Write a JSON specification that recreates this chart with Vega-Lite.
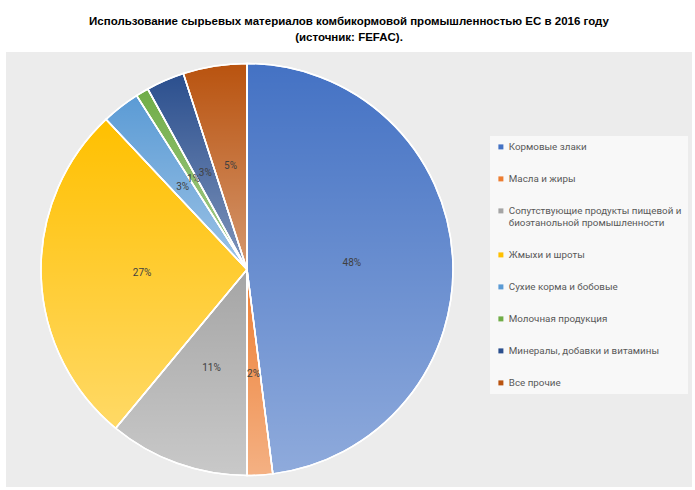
{
  "$schema": "https://vega.github.io/schema/vega-lite/v6.json",
  "padding": {"left": 6, "top": 15, "right": 3, "bottom": 3},
  "background": "white",
  "title": {
    "text": ["Использование сырьевых материалов комбикормовой промышленностью ЕС в 2016 году", "(источник: FEFAC)."],
    "anchor": "middle",
    "font": "Liberation Sans",
    "fontSize": 11.5,
    "fontWeight": "bold",
    "color": "#000000",
    "lineHeight": 16,
    "offset": 9
  },
  "spacing": 0,
  "hconcat": [
    {
      "width": 482,
      "height": 435,
      "view": {"fill": "#ececec", "stroke": null},
      "data": {
        "values": [
          {"category": "Кормовые злаки", "share": 0.48, "order": 1},
          {"category": "Масла и жиры", "share": 0.02, "order": 2},
          {"category": "Сопутствующие продукты пищевой и биоэтанольной промышленности", "share": 0.11, "order": 3},
          {"category": "Жмыхи и шроты", "share": 0.27, "order": 4},
          {"category": "Сухие корма и бобовые", "share": 0.03, "order": 5},
          {"category": "Молочная продукция", "share": 0.01, "order": 6},
          {"category": "Минералы, добавки и витамины", "share": 0.03, "order": 7},
          {"category": "Все прочие", "share": 0.05, "order": 8}
        ]
      },
      "layer": [
        {
          "mark": {"type": "arc", "outerRadius": 206, "stroke": "white", "strokeWidth": 1.5},
          "encoding": {
            "theta": {"field": "share", "type": "quantitative", "stack": true},
            "order": {"field": "order", "type": "quantitative"},
            "color": {
              "field": "category",
              "type": "nominal",
              "scale": {
                "domain": [
                  "Кормовые злаки",
                  "Масла и жиры",
                  "Сопутствующие продукты пищевой и биоэтанольной промышленности",
                  "Жмыхи и шроты",
                  "Сухие корма и бобовые",
                  "Молочная продукция",
                  "Минералы, добавки и витамины",
                  "Все прочие"
                ],
                "range": ["#4472c4", "#ed7d31", "#a5a5a5", "#ffc000", "#5b9bd5", "#70ad47", "#2b4f8e", "#b9530f"]
              },
              "legend": {
                "orient": "none",
                "legendX": 484,
                "legendY": 84,
                "direction": "vertical",
                "title": null,
                "symbolType": "square",
                "symbolSize": 25,
                "symbolStrokeWidth": 0,
                "labelFont": "Roboto",
                "labelFontSize": 9.8,
                "labelColor": "#595959",
                "labelLimit": 260,
                "labelOffset": 3,
                "rowPadding": 21,
                "padding": 6,
                "fillColor": "#f8f8f8",
                "labelExpr": "datum.label == 'Сопутствующие продукты пищевой и биоэтанольной промышленности' ? ['Сопутствующие продукты пищевой и', 'биоэтанольной промышленности'] : datum.label"
              }
            }
          }
        },
        {
          "mark": {
            "type": "arc",
            "outerRadius": 206,
            "stroke": "white",
            "strokeWidth": 1.5,
            "color": {
              "gradient": "linear",
              "x1": 0, "y1": 0, "x2": 0, "y2": 1,
              "stops": [
                {"offset": 0, "color": "rgba(255,255,255,0)"},
                {"offset": 1, "color": "rgba(255,255,255,0.4)"}
              ]
            }
          },
          "encoding": {
            "theta": {"field": "share", "type": "quantitative", "stack": true},
            "order": {"field": "order", "type": "quantitative"}
          }
        },
        {
          "mark": {"type": "text", "radius": 105, "font": "Roboto", "fontSize": 10, "color": "#404040"},
          "encoding": {
            "theta": {"field": "share", "type": "quantitative", "stack": true},
            "order": {"field": "order", "type": "quantitative"},
            "text": {"field": "share", "type": "quantitative", "format": ".0%"}
          }
        }
      ]
    },
    {
      "width": 204,
      "height": 435,
      "view": {"fill": "#ececec", "stroke": null},
      "data": {"values": [{"blank": ""}]},
      "mark": {"type": "text"},
      "encoding": {"text": {"field": "blank", "type": "nominal"}}
    }
  ],
  "config": {
    "view": {"fill": "#ececec", "stroke": null},
    "concat": {"spacing": 0}
  }
}
